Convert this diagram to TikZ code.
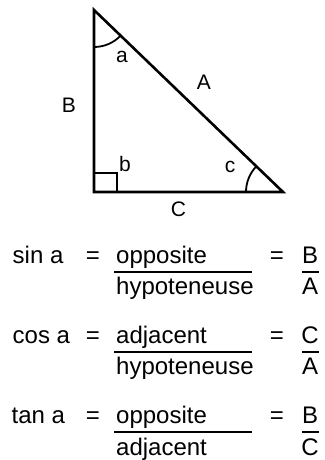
\documentclass[tikz,border=0pt]{standalone}
\usepackage{fontspec}
\setmainfont{Liberation Sans}
\usepackage{tikz}
\usetikzlibrary{positioning}

\begin{document}
\begin{tikzpicture}[
  x=1pt, y=1pt,
  side/.style={line width=2.6pt, line join=miter},
  anglemark/.style={line width=1.8pt},
  fracline/.style={line width=2pt},
  lbl/.style={inner sep=0pt, anchor=base, font=\fontsize{21}{25}\selectfont},
  eq/.style={inner sep=0pt, anchor=base west, font=\fontsize{24}{28}\selectfont},
  eqc/.style={eq, anchor=base}
]
\useasboundingbox (0,0) rectangle (324,460);

% triangle corners
\coordinate (top) at (94,450);
\coordinate (corner) at (94,268);
\coordinate (right) at (283,268);

\draw[side] (top) -- (corner) -- (right) -- cycle;

% angle marks
\draw[anglemark] ([shift={(270:37)}]top) arc[start angle=270, end angle=316.1, radius=37];
\draw[anglemark] ([shift={(136.1:37)}]right) arc[start angle=136.1, end angle=180, radius=37];
\draw[anglemark] (corner) rectangle ++(23,19);

% side and angle labels
\node[lbl] (la) at (122,397) {a};
\node[lbl] (lA) at (204,370) {A};
\node[lbl] (lB) at (69,347.5) {B};
\node[lbl] (lb) at (125,288) {b};
\node[lbl] (lc) at (230,287) {c};
\node[lbl] (lC) at (178.5,243.5) {C};

% sin
\node[eq] (sin) at (12.5,196) {sin a};
\node[eqc] (eq1) at (93,196) {=};
\node[eq] (num1) at (116,196) {opposite};
\node[eq] (den1) at (116,165) {hypoteneuse};
\coordinate (f1a) at (114,188);
\coordinate (f1b) at (252,188);
\draw[fracline] (f1a) -- (f1b);
\node[eqc] (eq1r) at (277,196) {=};
\node[eqc] (rn1) at (310,196) {B};
\node[eqc] (rd1) at (310,165) {A};
\coordinate (g1a) at (302,188);
\coordinate (g1b) at (318.5,188);
\draw[fracline] (g1a) -- (g1b);

% cos
\node[eq] (cos) at (12.5,116) {cos a};
\node[eqc] (eq2) at (93,116) {=};
\node[eq] (num2) at (116,116) {adjacent};
\node[eq] (den2) at (116,85) {hypoteneuse};
\coordinate (f2a) at (114,108);
\coordinate (f2b) at (252,108);
\draw[fracline] (f2a) -- (f2b);
\node[eqc] (eq2r) at (277,116) {=};
\node[eqc] (rn2) at (310,116) {C};
\node[eqc] (rd2) at (310,85) {A};
\coordinate (g2a) at (302,108);
\coordinate (g2b) at (318.5,108);
\draw[fracline] (g2a) -- (g2b);

% tan
\node[eq] (tan) at (11.5,36) {tan a};
\node[eqc] (eq3) at (93,36) {=};
\node[eq] (num3) at (116,36) {opposite};
\node[eq] (den3) at (116,5) {adjacent};
\coordinate (f3a) at (114,28);
\coordinate (f3b) at (252,28);
\draw[fracline] (f3a) -- (f3b);
\node[eqc] (eq3r) at (277,36) {=};
\node[eqc] (rn3) at (310,36) {B};
\node[eqc] (rd3) at (310,5) {C};
\coordinate (g3a) at (302,28);
\coordinate (g3b) at (318.5,28);
\draw[fracline] (g3a) -- (g3b);

\end{tikzpicture}
\end{document}
